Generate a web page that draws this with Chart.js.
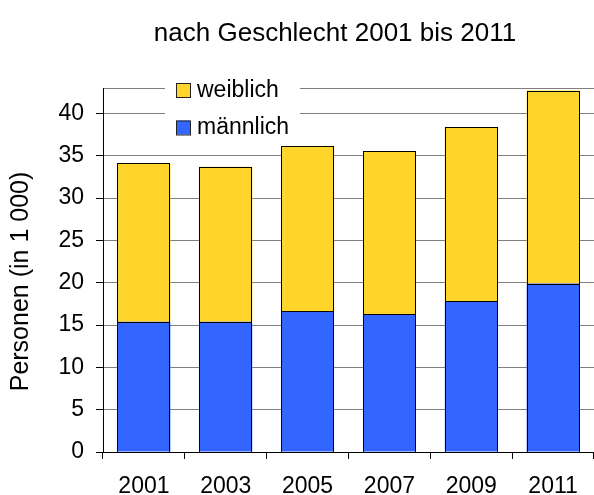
<!DOCTYPE html>
<html>
<head>
<meta charset="utf-8">
<script src="https://cdn.jsdelivr.net/npm/chart.js@4"></script>
<style>
  html, body { margin: 0; padding: 0; background: #fff; }
  #wrap { width: 594px; height: 495px; position: relative; }
</style>
</head>
<body>
<div id="wrap"><canvas id="c" width="594" height="495"></canvas></div>
<script>
const categories = ['2001', '2003', '2005', '2007', '2009', '2011'];
const maennlich = [15.4, 15.4, 16.6, 16.3, 17.8, 19.9];
const weiblich = [18.7, 18.3, 19.5, 19.2, 20.6, 22.8];
const seriesLabels = ['männlich', 'weiblich'];
const yTickValues = [0, 5, 10, 15, 20, 25, 30, 35, 40];
const yMin = 0, yMax = 43;
const titleText = 'nach Geschlecht 2001 bis 2011';
const yTitleText = 'Personen (in 1 000)';

const FONT = '"Liberation Sans", Arial, Helvetica, sans-serif';
const YELLOW = '#FFD52B';
const BLUE = '#3366FF';

// crisp 1px black outlines around every bar segment, using the library's computed bar geometry
const barOutline = {
  id: 'barOutline',
  afterDatasetsDraw(chart) {
    const ctx = chart.ctx;
    ctx.save();
    ctx.strokeStyle = '#000';
    ctx.lineWidth = 1;
    chart.data.datasets.forEach((ds, di) => {
      const meta = chart.getDatasetMeta(di);
      meta.data.forEach((el) => {
        const p = el.getProps(['x', 'y', 'base', 'width'], true);
        const l = Math.round(p.x - p.width / 2);
        const r = Math.round(p.x + p.width / 2);
        const t = Math.round(Math.min(p.y, p.base));
        const b = Math.round(Math.max(p.y, p.base));
        ctx.strokeRect(l + 0.5, t + 0.5, r - l - 1, b - t);
      });
    });
    ctx.restore();
  }
};

const overlay = {
  id: 'overlay',
  afterDraw(chart) {
    const ctx = chart.ctx;
    ctx.save();
    ctx.fillStyle = '#000';
    // main title
    ctx.font = '26px ' + FONT;
    ctx.textAlign = 'center';
    ctx.textBaseline = 'alphabetic';
    ctx.fillText(titleText, 335, 41);
    // y axis title
    ctx.save();
    ctx.translate(28, 281.5);
    ctx.rotate(-Math.PI / 2);
    ctx.font = '25px ' + FONT;
    ctx.fillText(yTitleText, 0, 0);
    ctx.restore();
    // legend box (weiblich on top, männlich below)
    ctx.fillStyle = '#fff';
    ctx.fillRect(165, 72, 135, 68);
    const items = [chart.data.datasets[1], chart.data.datasets[0]];
    const rows = [{ sy: 83, ty: 97 }, { sy: 120.5, ty: 134 }];
    ctx.font = '23px ' + FONT;
    ctx.textAlign = 'left';
    items.forEach((ds, i) => {
      const r = rows[i];
      ctx.fillStyle = ds.backgroundColor;
      ctx.fillRect(176, r.sy, 14, 14);
      ctx.strokeStyle = '#222';
      ctx.lineWidth = 1;
      ctx.strokeRect(176.5, r.sy + 0.5, 14, 14);
      ctx.fillStyle = '#000';
      ctx.fillText(ds.label, 197, r.ty);
    });
    ctx.restore();
  }
};

new Chart(document.getElementById('c'), {
  type: 'bar',
  data: {
    labels: categories,
    datasets: [
      { label: seriesLabels[0], data: maennlich, backgroundColor: BLUE, borderWidth: 0, inflateAmount: 0 },
      { label: seriesLabels[1], data: weiblich, backgroundColor: YELLOW, borderWidth: 0, inflateAmount: 0 }
    ]
  },
  options: {
    responsive: false,
    animation: false,
    devicePixelRatio: 1,
    layout: { padding: { top: 88, left: 0, right: -1, bottom: 0 } },
    plugins: {
      legend: { display: false },
      title: { display: false },
      tooltip: { enabled: false }
    },
    datasets: { bar: { categoryPercentage: 1.0, barPercentage: 53 / 82 } },
    scales: {
      x: {
        stacked: true,
        offset: true,
        grid: { display: true, drawOnChartArea: false, drawTicks: true, tickLength: 7, tickColor: '#000', offset: true },
        border: { color: '#000', width: 1 },
        ticks: { color: '#000', font: { family: FONT, size: 23 }, padding: 14, autoSkip: false, maxRotation: 0 },
        afterFit(scale) { scale.height = 43; }
      },
      y: {
        stacked: true,
        min: yMin,
        max: yMax,
        afterBuildTicks(scale) {
          scale.ticks = yTickValues.concat([yMax]).map((value) => ({ value }));
        },
        ticks: {
          color: '#000',
          font: { family: FONT, size: 23 },
          padding: 12,
          callback: (v) => (yTickValues.includes(v) ? String(v) : '')
        },
        grid: {
          color: '#7f7f7f',
          lineWidth: 1,
          tickLength: 7,
          tickColor: (ctx) => (ctx.tick && yTickValues.includes(ctx.tick.value) ? '#000' : 'rgba(0,0,0,0)')
        },
        border: { color: '#000', width: 1 },
        afterFit(scale) { scale.width = 103; }
      }
    }
  },
  plugins: [barOutline, overlay]
});
</script>
</body>
</html>
